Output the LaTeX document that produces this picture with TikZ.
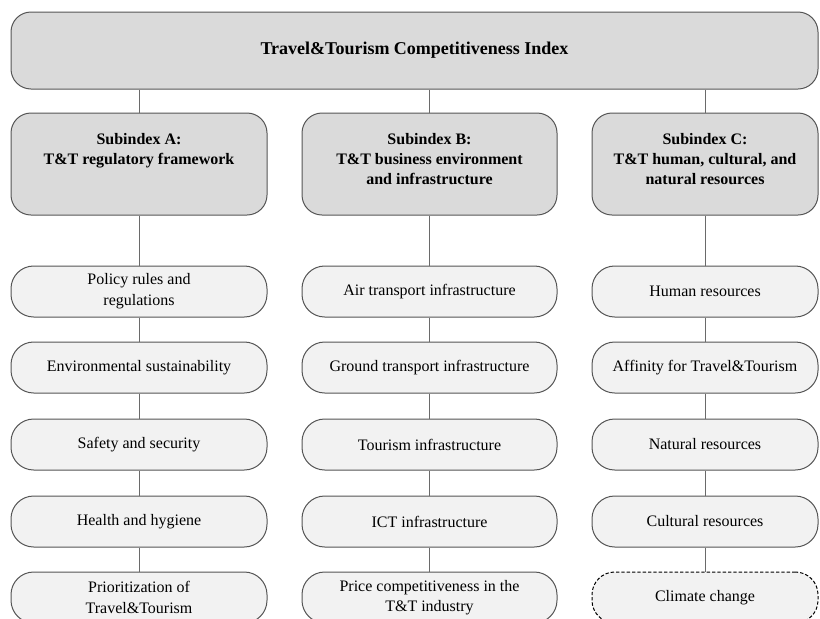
\documentclass[tikz,border=0pt]{standalone}
\usepackage{fontspec}
\setmainfont{Liberation Serif}
\usetikzlibrary{positioning}
\definecolor{tcBorder}{HTML}{555555}
\definecolor{tcLine}{HTML}{6A6A6A}
\definecolor{tcHead}{HTML}{DADADA}
\definecolor{tcLeaf}{HTML}{F2F2F2}
\tikzset{
  % thin grey outlines, serif text as in the original chart
  every picture/.append style = {line width=0.75pt},
  headbox/.style  = {draw=tcBorder, fill=tcHead, rounded corners=15pt, align=center,
                     font=\fontsize{12}{15}\selectfont\bfseries, inner sep=2pt},
  leafbox/.style  = {draw=tcBorder, fill=tcLeaf, rounded corners=17pt, align=center,
                     font=\fontsize{12}{15.5}\selectfont, minimum height=38.25pt, inner sep=2pt},
  link/.style     = {draw=tcLine, line width=0.75pt},
}

\begin{document}
\begin{tikzpicture}[x=0.75pt, y=-0.75pt,
    subbox/.style={headbox, minimum height=76.5pt, text depth=8pt},
    colA/.style={leafbox, minimum width=192pt},
    colB/.style={leafbox, minimum width=191.25pt},
    colC/.style={leafbox, minimum width=169.5pt},
    optbox/.style={draw=black, dash pattern=on 2.5pt off 1.5pt}]
  \useasboundingbox (0,0) rectangle (820,618);
  \clip (0,0) rectangle (820,618);
  % index
  \node[headbox, minimum width=605.25pt, minimum height=57.75pt,
        font=\fontsize{13.5}{16}\selectfont\bfseries] (index) at (414.5,50.5)
    {Travel\&Tourism Competitiveness Index};
  % subindices
  \node[subbox, minimum width=192pt] (subA) at (139,164)
    {Subindex A:\\T\&T regulatory framework\\\strut};
  \node[subbox, minimum width=191.25pt] (subB) at (429.5,164)
    {Subindex B:\\T\&T business environment\\and infrastructure};
  \node[subbox, minimum width=169.5pt] (subC) at (705,164)
    {Subindex C:\\T\&T human, cultural, and\\natural resources};
  % pillars A
  \node[colA] (a1) at (139,291.5) {Policy rules and\\regulations};
  \node[colA] (a2) at (139,367.5) {Environmental sustainability};
  \node[colA] (a3) at (139,444.5) {Safety and security};
  \node[colA] (a4) at (139,521.5) {Health and hygiene};
  \node[colA] (a5) at (139,597.5) {Prioritization of\\Travel\&Tourism};
  % pillars B
  \node[colB] (b1) at (429.5,291.5) {Air transport infrastructure};
  \node[colB] (b2) at (429.5,367.5) {Ground transport infrastructure};
  \node[colB] (b3) at (429.5,444.5) {Tourism infrastructure};
  \node[colB] (b4) at (429.5,521.5) {ICT infrastructure};
  \node[colB] (b5) at (429.5,597.5) {Price competitiveness in the\\T\&T industry};
  % pillars C
  \node[colC] (c1) at (705,291.5) {Human resources};
  \node[colC] (c2) at (705,367.5) {Affinity for Travel\&Tourism};
  \node[colC] (c3) at (705,444.5) {Natural resources};
  \node[colC] (c4) at (705,521.5) {Cultural resources};
  \node[colC, optbox] (c5) at (705,597.5) {Climate change};
  % links
  \foreach \sub in {subA, subB, subC}
    \draw[link] (index.south -| \sub.north) -- (\sub.north);
  \foreach \col/\sub in {a/subA, b/subB, c/subC} {
    \draw[link] (\sub) -- (\col1);
    \foreach \i [count=\j from 2] in {1,...,4}
      \draw[link] (\col\i) -- (\col\j);
  }
\end{tikzpicture}
\end{document}
